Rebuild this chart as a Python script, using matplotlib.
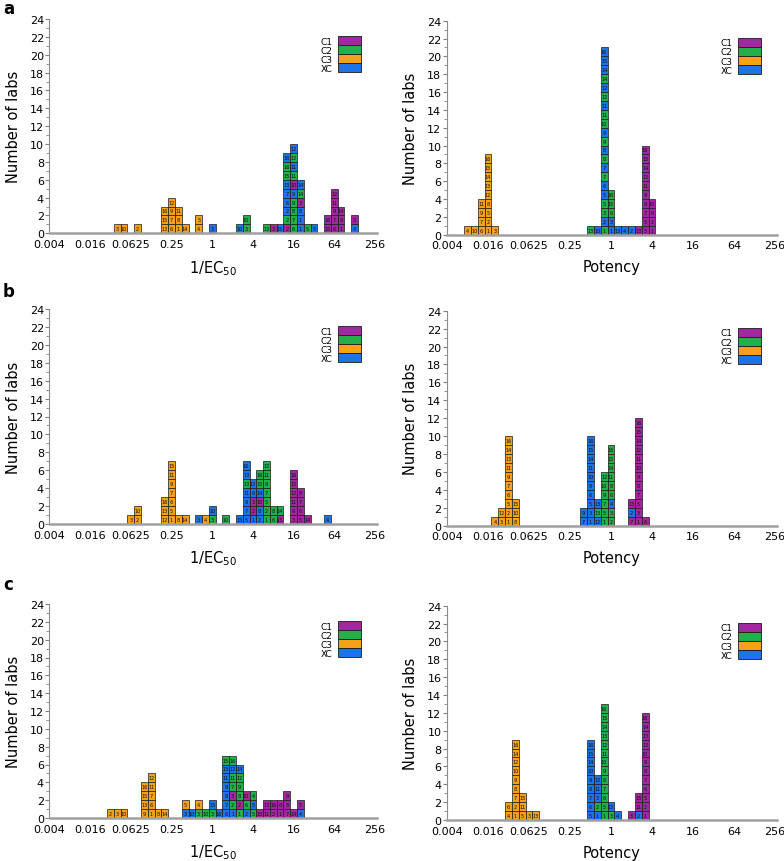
import numpy as np
import matplotlib.pyplot as plt
from matplotlib.patches import Patch

# Bins are a third of a doubling wide: bin k is centred on 2**(k/3).
# Per panel: bin index of each column, sample of each stacked box (bottom up)
# and the lab number written in that box.  P = C1, G = C2, O = C3, B = XC
samples = ["C1", "C2", "C3", "XC"]
codes = ["P", "G", "O", "B"]
colors = ["#a3289f", "#22b04b", "#f7a11b", "#1d74e8"]

a_ec50_bins = [-14, -13, -11, -7, -6, -5, -4, -2, 0, 4, 5, 8, 9, 10, 11, 12, 13, 14, 15, 17, 18, 19, 21]
a_ec50_samples = ["O", "O", "O", "OOO", "OOOO", "OOO", "O", "OO", "B", "B", "GG", "G", "P", "B",
                  "PGBBBBGGB", "GGGGBPGBGB", "BBBPGB", "G", "B", "PP", "PPPPP", "PPP", "BP"]
a_ec50_labs = [[3], [10], [2], [13, 15, 16], [6, 7, 9, 12], [1, 8, 11], [14], [4, 5], [3], [10], [3, 10],
               [13], [3], [15], [2, 2, 2, 6, 7, 13, 15, 16, 16], [6, 7, 8, 9, 9, 10, 11, 11, 12, 12],
               [1, 1, 8, 3, 14, 14], [5], [5], [15, 16], [6, 7, 9, 11, 12], [1, 8, 14], [4, 5]]

a_pot_bins = [-21, -20, -19, -18, -17, -3, -2, -1, 0, 1, 2, 3, 4, 5, 6]
a_pot_samples = ["O", "O", "OOOO", "OOOOOOOOO", "O", "G", "B", "GBGGBBGBGBGBGGBGBGBBB", "BBGGG",
                 "B", "B", "B", "P", "PPPPPPPPPP", "PPPP"]
a_pot_labs = [[4], [10], [6, 7, 9, 11], [1, 2, 5, 8, 12, 13, 14, 15, 16], [3], [13], [10],
              [1, 2, 3, 5, 5, 6, 7, 7, 8, 8, 9, 9, 10, 11, 11, 12, 12, 14, 14, 15, 16], [1, 3, 6, 15, 16],
              [13], [4], [2], [13], [3, 5, 7, 8, 9, 11, 12, 14, 15, 16], [1, 2, 6, 10]]

b_ec50_bins = [-12, -11, -7, -6, -5, -4, -2, -1, 0, 2, 4, 5, 6, 7, 8, 9, 10, 12, 13, 14, 17]
b_ec50_samples = ["O", "OO", "OOO", "OOOOOOO", "O", "O", "B", "O", "GB", "G", "B", "BBBBGBB", "BPPBB",
                  "BBPBGG", "GGGGGGG", "GG", "PG", "PPPPPP", "PPPP", "P", "B"]
b_ec50_labs = [[3], [2, 10], [12, 13, 16], [1, 5, 6, 7, 9, 11, 15], [8], [14], [3], [4], [3, 10], [10],
               [15], [5, 7, 9, 11, 13, 13, 16], [1, 2, 3, 6, 12], [2, 8, 10, 14, 15, 16],
               [1, 2, 5, 7, 9, 11, 12], [6, 8], [13, 14], [3, 9, 11, 12, 15, 16], [5, 6, 7, 8], [14], [4]]

b_pot_bins = [-17, -16, -15, -14, -4, -3, -2, -1, 0, 3, 4, 5]
b_pot_samples = ["O", "OO", "OOOOOOOOOO", "OOO", "BB", "BBBBBBBBBB", "BGB", "GGGGGG", "GGBGGGGGG",
                 "PBP", "PPPPPPPPPPPP", "P"]
b_pot_labs = [[4], [3, 12], [1, 2, 5, 6, 7, 9, 11, 13, 14, 16], [8, 10, 15], [7, 9],
              [1, 3, 5, 6, 8, 10, 11, 14, 15, 16], [12, 13, 13], [1, 5, 7, 9, 10, 12],
              [2, 3, 4, 6, 8, 11, 14, 15, 16], [7, 2, 13], [1, 3, 5, 7, 8, 9, 10, 11, 12, 14, 15, 16], [6]]

c_ec50_bins = [-15, -14, -13, -10, -9, -8, -7, -4, -3, -2, -1, 0, 1, 2, 3, 4, 5, 6, 7, 8, 9, 10, 11, 12, 13]
c_ec50_samples = ["O", "O", "O", "OOOO", "OOOOO", "O", "O", "BO", "B", "GO", "G", "GB", "B", "BBBBBBG",
                  "BGPGGBG", "GPGGGB", "BGP", "GBG", "P", "PP", "PP", "PP", "PPP", "P", "BP"]
c_ec50_labs = [[2], [3], [10], [9, 13, 15, 16], [1, 6, 7, 11, 12], [8], [14], [3, 5], [10], [3, 4], [10],
               [3, 15], [16], [6, 7, 8, 9, 11, 13, 15], [1, 2, 3, 7, 11, 12, 16], [1, 2, 8, 9, 12, 14],
               [2, 6, 10], [5, 5, 4], [15], [11, 13], [2, 16], [1, 6], [7, 8, 9], [14], [4, 5]]

c_pot_bins = [-15, -14, -13, -12, -11, -3, -2, -1, 0, 1, 3, 4, 5]
c_pot_samples = ["OO", "OOOOOOOOO", "OOO", "O", "O", "BBBBBBBBB", "BGBBB", "GGGGGGGGGGGGG", "GB", "B",
                 "P", "BPP", "PPPPPPPPPPPP"]
c_pot_labs = [[4, 6], [1, 2, 7, 8, 9, 10, 12, 14, 16], [5, 11, 15], [3], [13],
              [5, 6, 7, 8, 9, 10, 14, 15, 16], [1, 2, 3, 11, 12],
              [1, 5, 6, 7, 8, 9, 10, 11, 12, 13, 14, 15, 16], [3, 13], [4], [3], [2, 11, 15],
              [1, 2, 5, 6, 7, 8, 9, 10, 12, 13, 14, 16]]

xtick_values = [2.0 ** p for p in range(-8, 9, 2)]
xtick_labels = ["0.004", "0.016", "0.0625", "0.25", "1", "4", "16", "64", "256"]

plt.rcParams["font.family"] = "DejaVu Sans"
fig = plt.figure(figsize=(7.84, 8.62), dpi=100)
W, H = 784, 862

# (left px, right px, y of 0 px, y of 24 px)
frames = [(49.5, 377, 234.3, 20), (447, 777, 235.7, 21.7),
          (49.5, 377, 525, 310), (447, 777, 526.7, 311.7),
          (49.5, 377, 819, 605), (447, 777, 821, 606.7)]
panels = [(a_ec50_bins, a_ec50_samples, a_ec50_labs, "1/EC$_{50}$"),
          (a_pot_bins, a_pot_samples, a_pot_labs, "Potency"),
          (b_ec50_bins, b_ec50_samples, b_ec50_labs, "1/EC$_{50}$"),
          (b_pot_bins, b_pot_samples, b_pot_labs, "Potency"),
          (c_ec50_bins, c_ec50_samples, c_ec50_labs, "1/EC$_{50}$"),
          (c_pot_bins, c_pot_samples, c_pot_labs, "Potency")]
col_of = dict(zip(codes, colors))

for (x0, x1, y0, y24), (bins, stacks, labs, xlabel) in zip(frames, panels):
    ax = fig.add_axes([x0 / W, 1 - y0 / H, (x1 - x0) / W, (y0 - y24) / H])
    ax.set_xscale("log", base=2)
    for k, stack, nums in zip(bins, stacks, labs):
        lo = 2.0 ** ((k - 0.5) / 3)
        hi = 2.0 ** ((k + 0.5) / 3)
        for i, (s, n) in enumerate(zip(stack, nums)):
            ax.bar(lo, 1, width=hi - lo, bottom=i, align="edge", color=col_of[s],
                   edgecolor="#1a1a1a", linewidth=0.5)
            ax.text(np.sqrt(lo * hi), i + 0.5, str(n), fontsize=3.6, ha="center", va="center",
                    color="#111111")
    ax.set_xlim(2.0 ** -8, 2.0 ** 8.1)
    ax.set_ylim(0, 24)
    ax.set_xticks(xtick_values)
    ax.set_xticklabels(xtick_labels)
    ax.minorticks_off()
    ax.set_yticks(range(0, 25, 2))
    ax.set_yticks(range(1, 24, 2), minor=True)
    ax.tick_params(axis="x", length=0, pad=4, labelsize=8)
    ax.tick_params(axis="y", which="major", length=3, width=0.8, color="#808080", pad=1, labelsize=8)
    ax.tick_params(axis="y", which="minor", length=2, width=0.6, color="#808080")
    for side in ["top", "right"]:
        ax.spines[side].set_visible(False)
    ax.spines["left"].set_color("#8c8c8c")
    ax.spines["left"].set_linewidth(0.8)
    ax.spines["bottom"].set_color("#a0a0a0")
    ax.spines["bottom"].set_linewidth(1.8)
    ax.set_ylabel("Number of labs", fontsize=10.5)
    ax.set_xlabel(xlabel, fontsize=10.5)
    ax.yaxis.set_label_coords(-0.087, 0.5)
    ax.xaxis.set_label_coords(0.5, -0.115)
    handles = [Patch(facecolor=c, edgecolor="#1a1a1a", linewidth=0.6) for c in colors]
    ax.legend(handles, samples, loc="upper right", bbox_to_anchor=(0.95, 0.92), markerfirst=False,
              frameon=False, fontsize=6.5, handlelength=2.5, handleheight=1.15, labelspacing=-0.05,
              handletextpad=0.6, borderpad=0, borderaxespad=0)

for letter, ybase in [("a", 13.5), ("b", 297), ("c", 590)]:
    fig.text(3 / W, 1 - ybase / H, letter, fontsize=12, fontweight="bold", va="baseline")

fig.savefig("out.png", dpi=100)
